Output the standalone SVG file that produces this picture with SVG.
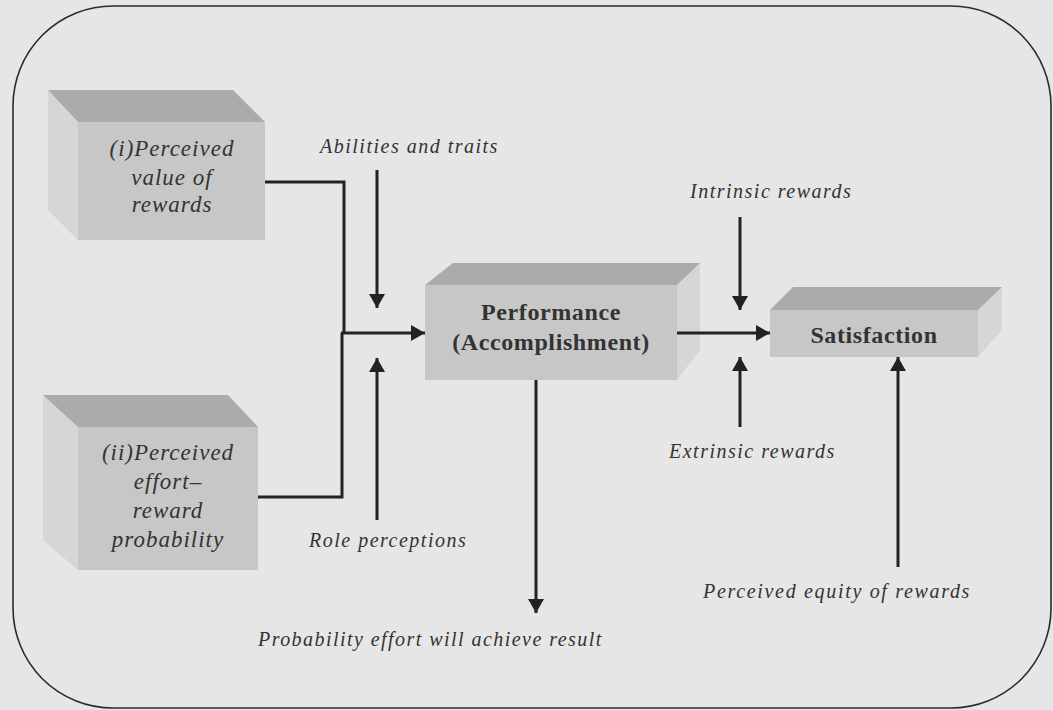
<svg xmlns="http://www.w3.org/2000/svg" width="1053" height="710" viewBox="0 0 1053 710">
  <defs>
    <marker id="arrow" viewBox="0 0 14 16" refX="14" refY="8" markerWidth="14" markerHeight="16" markerUnits="userSpaceOnUse" orient="auto">
      <path d="M0,0 L14,8 L0,16 Z" fill="#222"/>
    </marker>
    <style>
      .frame { fill: none; stroke: #2a2a2a; stroke-width: 1.6; }
      .top { fill: #ababab; }
      .front { fill: #c7c7c7; }
      .side { fill: #d6d6d6; }
      .wire { fill: none; stroke: #222; stroke-width: 3; }
      .arrow { fill: none; stroke: #222; stroke-width: 3; marker-end: url(#arrow); }
      .box-it { font-family: "Liberation Serif", "Times New Roman", serif; font-style: italic; font-size: 23px; fill: #333; text-anchor: middle; letter-spacing: 1px; }
      .box-bold { font-family: "Liberation Serif", "Times New Roman", serif; font-weight: bold; font-size: 24px; fill: #333; text-anchor: middle; letter-spacing: 0.6px; }
      .label { font-family: "Liberation Serif", "Times New Roman", serif; font-style: italic; font-size: 20px; fill: #333; letter-spacing: 1.5px; }
    </style>
  </defs>

  <rect x="0" y="0" width="1053" height="710" fill="#e6e6e6"/>
  <rect class="frame" x="13" y="6" width="1038" height="702" rx="100" ry="100"/>

  <!-- (i) Perceived value of rewards -->
  <g id="node-value">
    <polygon class="side" points="48,90 78,122 78,240 48,210"/>
    <polygon class="top" points="48,90 233,90 265,122 78,122"/>
    <rect class="front" x="78" y="122" width="187" height="118"/>
    <text class="box-it" x="172" y="156">(i)Perceived</text>
    <text class="box-it" x="172" y="185">value of</text>
    <text class="box-it" x="172" y="212">rewards</text>
  </g>

  <!-- (ii) Perceived effort-reward probability -->
  <g id="node-probability">
    <polygon class="side" points="43,395 78,427 78,570 43,540"/>
    <polygon class="top" points="43,395 228,395 258,427 78,427"/>
    <rect class="front" x="78" y="427" width="180" height="143"/>
    <text class="box-it" x="168" y="460">(ii)Perceived</text>
    <text class="box-it" x="168" y="489">effort–</text>
    <text class="box-it" x="168" y="518">reward</text>
    <text class="box-it" x="168" y="547">probability</text>
  </g>

  <!-- Performance -->
  <g id="node-performance">
    <polygon class="side" points="677,285 700,263 700,350 677,380"/>
    <polygon class="top" points="453,263 700,263 677,285 425,285"/>
    <rect class="front" x="425" y="285" width="252" height="95"/>
    <text class="box-bold" x="551" y="320">Performance</text>
    <text class="box-bold" x="551" y="350">(Accomplishment)</text>
  </g>

  <!-- Satisfaction -->
  <g id="node-satisfaction">
    <polygon class="side" points="978,310 1002,287 1002,330 978,357"/>
    <polygon class="top" points="793,287 1002,287 978,310 770,310"/>
    <rect class="front" x="770" y="310" width="208" height="47"/>
    <text class="box-bold" x="874" y="343">Satisfaction</text>
  </g>

  <!-- influencing factors -->
  <g id="labels">
    <text class="label" x="320" y="153">Abilities and traits</text>
    <text class="label" x="690" y="198">Intrinsic rewards</text>
    <text class="label" x="309" y="547">Role perceptions</text>
    <text class="label" x="669" y="458">Extrinsic rewards</text>
    <text class="label" x="703" y="598" style="letter-spacing:1.68px">Perceived equity of rewards</text>
    <text class="label" x="258" y="646" style="letter-spacing:1.45px">Probability effort will achieve result</text>
  </g>

  <g id="connectors">
    <polyline class="wire" points="265,182 344,182 344,333"/>
    <polyline class="wire" points="258,497 342,497 342,333"/>
    <line class="arrow" x1="341" y1="333" x2="425" y2="333"/>
    <line class="arrow" x1="377" y1="170" x2="377" y2="308"/>
    <line class="arrow" x1="377" y1="520" x2="377" y2="358"/>
    <line class="arrow" x1="677" y1="333" x2="770" y2="333"/>
    <line class="arrow" x1="740" y1="217" x2="740" y2="310"/>
    <line class="arrow" x1="740" y1="427" x2="740" y2="357"/>
    <line class="arrow" x1="898" y1="567" x2="898" y2="357"/>
    <line class="arrow" x1="536" y1="380" x2="536" y2="613"/>
  </g>
</svg>
